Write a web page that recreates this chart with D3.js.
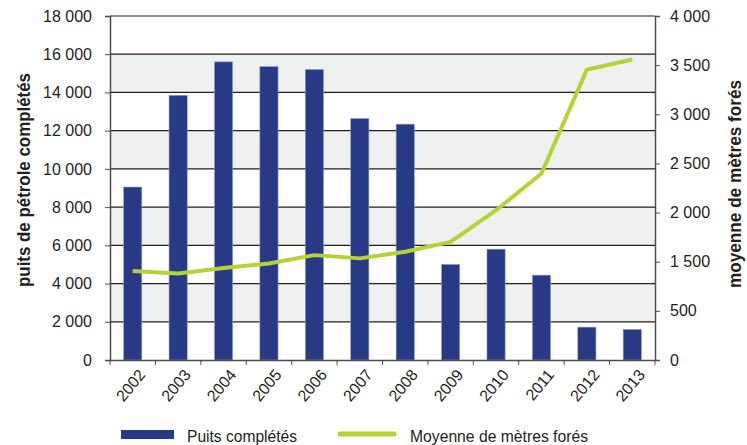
<!DOCTYPE html>
<html>
<head>
<meta charset="utf-8">
<script src="https://cdn.jsdelivr.net/npm/d3@7"></script>
<style>
  body { margin: 0; background: #fff; }
  text { font-family: "Liberation Sans Narrow", "Liberation Sans", Arial, sans-serif; fill: #231f20; }
</style>
</head>
<body>
<div id="chart"></div>
<script>
// donnees
var years = ["2002", "2003", "2004", "2005", "2006", "2007", "2008", "2009", "2010", "2011", "2012", "2013"];
var puits = [9050, 13850, 15600, 15350, 15200, 12630, 12340, 5000, 5800, 4440, 1720, 1600];
var metres = [1310, 1260, 1370, 1465, 1567, 1534, 1601, 1702, 2024, 2397, 3454, 3557];
var leftTicks = [0, 2000, 4000, 6000, 8000, 10000, 12000, 14000, 16000, 18000];
// l'axe de droite de l'original saute le 1 000
var rightTicks = [0, 500, 1500, 2000, 2500, 3000, 3500, 4000];
var bands = [[2000, 4000], [6000, 8000], [10000, 12000], [14000, 16000]];

var width = 747, height = 445;
var pLeft = 110, pRight = 655, pTop = 16, pBottom = 360;

var svg = d3.select("#chart").append("svg")
	.attr("width", width)
	.attr("height", height);

var x = d3.scaleBand()
	.domain(years)
	.range([pLeft, pRight])
	.paddingInner(0.6)
	.paddingOuter(0.3);

var y = d3.scaleLinear()
	.domain([0, 18000])
	.range([pBottom, pTop]);

var step = (pBottom - pTop) / (rightTicks.length - 1);
var yR = d3.scaleLinear()
	.domain(rightTicks)
	.range(rightTicks.map(function(d, i) { return pBottom - i * step; }));

var fmt = function(d) { return d3.format(",")(d).replace(/,/g, " "); };

// bandes grises
svg.selectAll("rect.band")
	.data(bands)
	.enter().append("rect")
	.attr("class", "band")
	.attr("x", pLeft)
	.attr("width", pRight - pLeft)
	.attr("y", function(d) { return y(d[1]); })
	.attr("height", function(d) { return y(d[0]) - y(d[1]); })
	.attr("fill", "#eef1f0");

// lignes de grille
svg.selectAll("line.grid")
	.data(leftTicks.slice(1))
	.enter().append("line")
	.attr("class", "grid")
	.attr("x1", pLeft)
	.attr("x2", pRight)
	.attr("y1", function(d) { return y(d); })
	.attr("y2", function(d) { return y(d); })
	.attr("stroke", "#231f20")
	.attr("stroke-width", 1.2);

// barres
svg.selectAll("rect.bar")
	.data(puits)
	.enter().append("rect")
	.attr("class", "bar")
	.attr("x", function(d, i) { return x(years[i]); })
	.attr("width", x.bandwidth())
	.attr("y", function(d) { return y(d); })
	.attr("height", function(d) { return y(0) - y(d); })
	.attr("fill", "#283a86")
	.attr("stroke", "#8f9cc4")
	.attr("stroke-width", 0.6);

// ligne
var line = d3.line()
	.x(function(d, i) { return x(years[i]) + x.bandwidth() / 2; })
	.y(function(d) { return yR(d); });

svg.append("path")
	.datum(metres)
	.attr("d", line)
	.attr("fill", "none")
	.attr("stroke", "#b5d334")
	.attr("stroke-width", 4)
	.attr("stroke-linejoin", "round");

// axe gauche
var axL = svg.append("g")
	.attr("transform", "translate(" + pLeft + ",0)")
	.call(d3.axisLeft(y).tickValues(leftTicks).tickFormat(fmt).tickSizeOuter(0).tickSize(5).tickPadding(13));

// axe droit
var axR = svg.append("g")
	.attr("transform", "translate(" + pRight + ",0)")
	.call(d3.axisRight(yR).tickValues(rightTicks).tickFormat(fmt).tickSizeOuter(0).tickSize(5).tickPadding(10));

// axe x
var axX = svg.append("g")
	.attr("transform", "translate(0," + pBottom + ")")
	.call(d3.axisBottom(x).tickSize(0).tickPadding(0));

axX.selectAll(".tick text")
	.attr("text-anchor", "end")
	.attr("transform", "translate(5,8) rotate(-50)")
	.attr("dy", "0.7em");

// petites marques entre les annees
svg.selectAll("line.xtick")
	.data(years.concat(["fin"]))
	.enter().append("line")
	.attr("class", "xtick")
	.attr("x1", function(d, i) { return pLeft + i * x.step(); })
	.attr("x2", function(d, i) { return pLeft + i * x.step(); })
	.attr("y1", pBottom)
	.attr("y2", pBottom + 5)
	.attr("stroke", "#4d4d4d");

[axL, axR, axX].forEach(function(g) {
	g.selectAll(".domain").attr("stroke", "#4d4d4d").attr("stroke-width", 1.5);
	g.selectAll(".tick line").attr("stroke", "#4d4d4d");
	g.selectAll(".tick text").style("font-size", "16px").attr("fill", "#231f20");
});

// titres des axes (police etroite simulee avec textLength)
svg.append("text")
	.attr("transform", "translate(30,180) rotate(-90)")
	.attr("text-anchor", "middle")
	.attr("textLength", 214)
	.attr("lengthAdjust", "spacingAndGlyphs")
	.style("font-size", "19px")
	.style("font-weight", "bold")
	.text("puits de pétrole complétés");

svg.append("text")
	.attr("transform", "translate(741,184) rotate(-90)")
	.attr("text-anchor", "middle")
	.attr("textLength", 208)
	.attr("lengthAdjust", "spacingAndGlyphs")
	.style("font-size", "19px")
	.style("font-weight", "bold")
	.text("moyenne de mètres forés");

// legende
var leg = svg.append("g");
leg.append("rect")
	.attr("x", 121).attr("y", 430)
	.attr("width", 53).attr("height", 9)
	.attr("fill", "#283a86");
leg.append("text")
	.attr("x", 187).attr("y", 442)
	.attr("textLength", 110)
	.attr("lengthAdjust", "spacingAndGlyphs")
	.style("font-size", "17px")
	.text("Puits complétés");
leg.append("line")
	.attr("x1", 340).attr("x2", 394)
	.attr("y1", 434).attr("y2", 434)
	.attr("stroke", "#b5d334")
	.attr("stroke-width", 5)
	.attr("stroke-linecap", "round");
leg.append("text")
	.attr("x", 410).attr("y", 442)
	.attr("textLength", 178)
	.attr("lengthAdjust", "spacingAndGlyphs")
	.style("font-size", "17px")
	.text("Moyenne de mètres forés");
</script>
</body>
</html>
